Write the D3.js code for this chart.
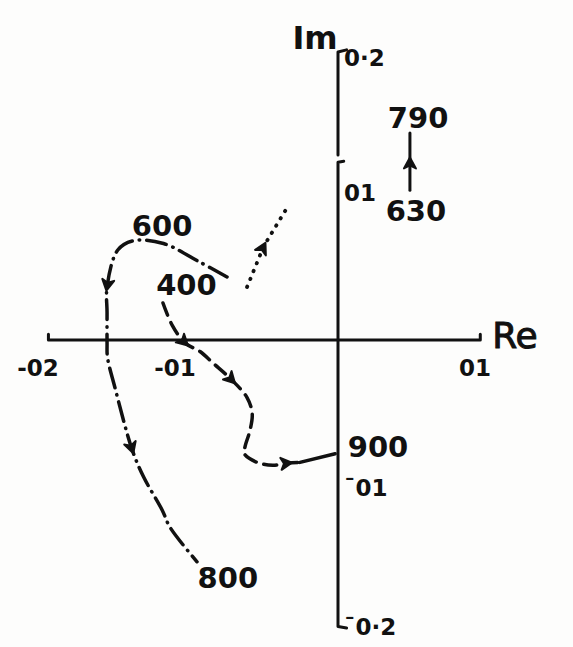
<!DOCTYPE html>
<html>
<head>
<meta charset="utf-8">
<script src="https://cdn.jsdelivr.net/npm/d3@7"></script>
<style>
  html, body { margin: 0; padding: 0; background: #fdfdfc; }
  svg { display: block; }
  text { font-family: "DejaVu Sans", sans-serif; fill: #111; }
</style>
</head>
<body>
<svg id="chart" width="573" height="647"></svg>
<script>
// Complex-plane loci (Re, Im) of the response as frequency rises.

// Tick values and their hand-lettered labels
const reTicks = [-0.2, -0.1, 0.1];
const reTickLabels = ["-02", "-01", "01"];
const imTicks = [0.2, 0.1, -0.1, -0.2];
const imTickLabels = ["0·2", "01", "¯01", "¯0·2"];

// 400 → 600 → 800 locus (dash-dot)
const locus400to800 = [
  [-0.0776, 0.0438], [-0.0965, 0.054], [-0.122, 0.067], [-0.143, 0.069],
  [-0.154, 0.0625], [-0.1615, 0.037], [-0.1615, 0.019], [-0.1615, -0.002],
  [-0.1612, -0.012], [-0.156, -0.033], [-0.144, -0.076], [-0.136, -0.095],
  [-0.123, -0.118], [-0.1175, -0.130], [-0.0986, -0.154]
];
const locus400to800Arrows = [5, 10];

// 400 → 900 locus (dashed, solid close to the axis)
const locus400to900 = [
  [-0.1224, 0.0257], [-0.116, 0.0104], [-0.107, -0.002], [-0.0965, -0.008],
  [-0.0874, -0.016], [-0.074, -0.028], [-0.0636, -0.040], [-0.060, -0.051],
  [-0.0615, -0.0625], [-0.065, -0.074], [-0.0655, -0.079], [-0.0566, -0.085],
  [-0.0455, -0.087], [-0.035, -0.0855], [-0.0266, -0.085], [-0.002, -0.079]
];
const locus400to900Arrows = [2, 5, 13];
const locus400to900SolidFrom = 14;

// Short dotted branch
const dottedBranch = [[-0.0636, 0.0368], [-0.052, 0.065], [-0.0357, 0.0917]];
const dottedBranchArrows = [1];

// 630 → 790 locus (solid)
const locus630to790 = [[0.0503, 0.104], [0.0503, 0.124], [0.0503, 0.1437]];
const locus630to790Arrows = [1];

// Frequency labels and the points they mark
const freqLabels = ["400", "600", "800", "900", "630", "790"];
const freqLabelRe = [-0.106, -0.123, -0.077, 0.028, 0.0545, 0.056];
const freqLabelIm = [0.038, 0.079, -0.165, -0.074, 0.0896, 0.154];

const svg = d3.select("#chart");
const ink = "#111";

const x = d3.scaleLinear().domain([-0.2, 0.1]).range([52, 481]);
const y = d3.scaleLinear().domain([-0.2, 0.2]).range([628, 52]);

const line = d3.line().x(d => x(d[0])).y(d => y(d[1])).curve(d3.curveCatmullRom.alpha(0.5));
const straight = d3.line().x(d => x(d[0])).y(d => y(d[1]));

// Axes
const axes = svg.append("g").attr("stroke", ink).attr("stroke-width", 3)
  .attr("fill", "none").attr("stroke-linecap", "round").attr("stroke-linejoin", "round");

// Real axis with small upturned ends
axes.append("path").attr("d", straight([[-0.2025, 0.004], [-0.2025, 0], [0.0995, 0], [0.0995, 0.004]]));
// Imaginary axis, lettered in two strokes with hooked ends
axes.append("path").attr("d", straight([[0.006, 0.2015], [0, 0.2], [0, 0.1285]]));
axes.append("path").attr("d", straight([[0.004, 0.1242], [0, 0.1235], [0, -0.199], [0.006, -0.2]]));

// Tick labels
svg.append("g").selectAll("text").data(reTicks).join("text")
  .attr("x", (d, i) => x(d) + [-14, -20, -6][i])
  .attr("y", y(0) + 28)
  .attr("text-anchor", "middle")
  .attr("dominant-baseline", "central")
  .attr("font-size", 23)
  .style("font-weight", "bold")
  .text((d, i) => reTickLabels[i]);

svg.append("g").selectAll("text").data(imTicks).join("text")
  .attr("x", x(0) + 6)
  .attr("y", (d, i) => y(d) + [6, -3, 4, -1][i])
  .attr("text-anchor", "start")
  .attr("dominant-baseline", "central")
  .attr("font-size", 23)
  .style("font-weight", "bold")
  .text((d, i) => imTickLabels[i]);

// Axis titles
svg.append("text").attr("x", x(0) - 23).attr("y", y(0.2) - 14)
  .attr("text-anchor", "middle").attr("dominant-baseline", "central")
  .attr("font-size", 32).style("font-weight", "bold")
  .text("Im");
svg.append("text").attr("x", x(0.1) + 34).attr("y", y(0) - 5)
  .attr("text-anchor", "middle").attr("dominant-baseline", "central")
  .attr("font-size", 36).style("font-weight", "normal")
  .attr("stroke", ink).attr("stroke-width", 1)
  .text("Re");

// Loci
const loci = svg.append("g").attr("fill", "none").attr("stroke", ink)
  .attr("stroke-width", 3.5).attr("stroke-linecap", "round");

loci.append("path").attr("d", line(locus400to800)).attr("stroke-dasharray", "20 7 0.5 7");
loci.append("path").attr("d", line(locus400to900.slice(0, locus400to900SolidFrom + 1)))
  .attr("stroke-dasharray", "13 8");
loci.append("path").attr("d", line(locus400to900.slice(locus400to900SolidFrom)));
loci.append("path").attr("d", straight(dottedBranch)).attr("stroke-dasharray", "0.5 8").attr("stroke-width", 3.8);
loci.append("path").attr("d", straight(locus630to790)).attr("stroke-width", 3);

// Arrowheads drawn along each locus
function arrowheads(points, idx) {
  return idx.map(i => {
    const a = points[Math.max(0, i - 1)], b = points[Math.min(points.length - 1, i + 1)];
    const px = x(points[i][0]), py = y(points[i][1]);
    const ang = Math.atan2(y(b[1]) - y(a[1]), x(b[0]) - x(a[0]));
    return { px, py, ang };
  });
}
const heads = [
  ...arrowheads(locus400to800, locus400to800Arrows),
  ...arrowheads(locus400to900, locus400to900Arrows),
  ...arrowheads(dottedBranch, dottedBranchArrows),
  ...arrowheads(locus630to790, locus630to790Arrows)
];
svg.append("g").selectAll("path").data(heads).join("path")
  .attr("transform", d => `translate(${d.px},${d.py}) rotate(${d.ang * 180 / Math.PI})`)
  .attr("d", "M4,0 L-7,-6 L-4,0 L-7,6 Z")
  .attr("fill", ink).attr("stroke", ink).attr("stroke-width", 2).attr("stroke-linejoin", "round");

// Frequency labels
svg.append("g").selectAll("text").data(freqLabels).join("text")
  .attr("x", (d, i) => x(freqLabelRe[i]))
  .attr("y", (d, i) => y(freqLabelIm[i]))
  .attr("text-anchor", "middle")
  .attr("dominant-baseline", "central")
  .attr("font-size", 29)
  .style("font-weight", "bold")
  .text(d => d);
</script>
</body>
</html>
